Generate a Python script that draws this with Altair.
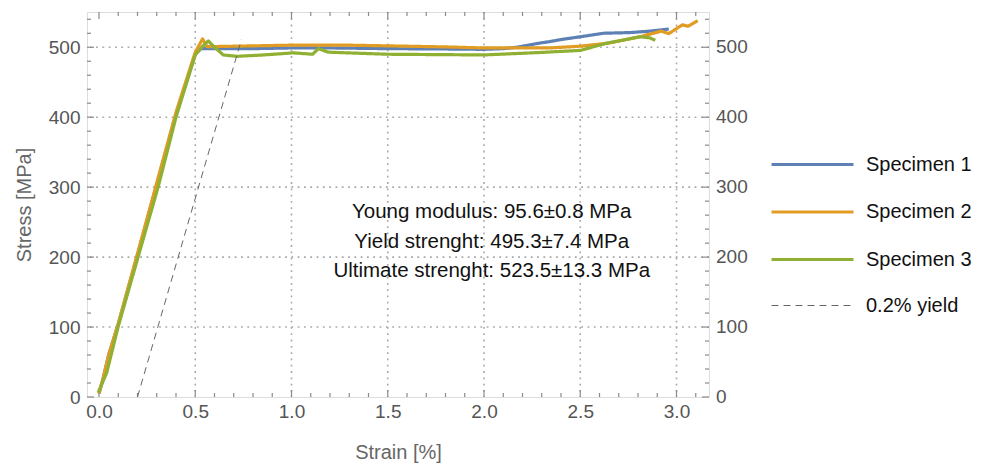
import altair as alt
import pandas as pd

# ---- data ----
s1_strain = [0.0, 0.02, 0.05, 0.10, 0.20, 0.30, 0.40, 0.50, 0.53, 0.60, 0.80, 1.00, 1.20, 1.50,
             1.80, 2.00, 2.10, 2.17, 2.29, 2.34, 2.40, 2.50, 2.62, 2.76, 2.86, 2.96]
s1_stress = [5, 25, 60, 104, 203, 304, 404, 490, 498, 498, 498, 499, 499, 498,
             497.5, 497, 498, 500, 506, 508, 511, 515, 520, 521, 523, 526]

s2_strain = [0.0, 0.02, 0.05, 0.10, 0.20, 0.30, 0.40, 0.50, 0.538, 0.56, 0.60, 0.80, 1.00, 1.30,
             1.50, 1.80, 2.00, 2.34, 2.50, 2.65, 2.81, 2.92, 2.96, 3.03, 3.06, 3.11]
s2_stress = [5, 25, 60, 105, 205, 306, 407, 493, 512, 501, 501, 502, 503, 503,
             502, 500.5, 499, 499, 501.5, 506, 515, 523, 519.5, 532, 530, 538]

s3_strain = [-0.004, 0.04, 0.10, 0.204, 0.308, 0.40, 0.50, 0.54, 0.568, 0.60, 0.646, 0.716, 0.855,
             1.01, 1.11, 1.14, 1.19, 1.29, 1.50, 2.00, 2.29, 2.50, 2.64, 2.81, 2.86, 2.89]
s3_stress = [6.5, 34.5, 101, 201, 301, 400, 489, 502, 509, 500, 489, 487, 489,
             492, 490, 498, 493, 492, 490, 489, 492.5, 495.5, 506, 515, 513.5, 510]

yield_strain = [0.2, 0.74]
yield_stress = [0, 511]

series_names = ["Specimen 1", "Specimen 2", "Specimen 3", "0.2% yield"]

x_major = [0.0, 0.5, 1.0, 1.5, 2.0, 2.5, 3.0]
x_minor = [0.1, 0.2, 0.3, 0.4, 0.6, 0.7, 0.8, 0.9, 1.1, 1.2, 1.3, 1.4, 1.6, 1.7, 1.8, 1.9,
           2.1, 2.2, 2.3, 2.4, 2.6, 2.7, 2.8, 2.9, 3.1]
y_major = [0, 100, 200, 300, 400, 500]
y_minor = [20, 40, 60, 80, 120, 140, 160, 180, 220, 240, 260, 280, 320, 340, 360, 380,
           420, 440, 460, 480, 520, 540]
x_grid = [0.5, 1.0, 1.5, 2.0, 2.5, 3.0]
y_grid = [100, 200, 300, 400, 500]

notes = ["Young modulus: 95.6\u00b10.8 MPa",
         "Yield strenght: 495.3\u00b17.4 MPa",
         "Ultimate strenght: 523.5\u00b113.3 MPa"]
note_strain = [2.04, 2.04, 2.04]
note_stress = [264.7, 221.9, 180.4]

# ---- build tables ----
rows = []
for name, xs, ys in [(series_names[0], s1_strain, s1_stress),
                     (series_names[1], s2_strain, s2_stress),
                     (series_names[2], s3_strain, s3_stress),
                     (series_names[3], yield_strain, yield_stress)]:
    for i, (a, b) in enumerate(zip(xs, ys)):
        rows.append({"series": name, "strain": a, "stress": b, "order": i})
lines_df = pd.DataFrame(rows)

W, H = 622, 385
FONT = "Liberation Sans"
xscale = alt.Scale(domain=[-0.0623, 3.1688], nice=False, zero=False)
yscale = alt.Scale(domain=[0, 550.4], nice=False, zero=False)
FRAME = "#8a8a8a"
LABEL = "#555555"

def vdf(vals):
    return pd.DataFrame({"v": vals})

# identical axis definitions are given to every layer so the shared axes merge cleanly
x_axis = alt.Axis(orient="bottom", values=x_major, format=".1f", title="Strain [%]",
                  ticks=False, domain=False, grid=False, labelFont=FONT,
                  labelFontSize=19, labelColor=LABEL, labelPadding=5,
                  titleFont=FONT, titleFontSize=20, titleFontWeight="normal",
                  titleColor="#666666", titlePadding=21)
y_axis = alt.Axis(orient="left", values=y_major, title="Stress [MPa]", ticks=False,
                  domain=False, grid=False, labelFont=FONT, labelFontSize=19,
                  labelColor=LABEL, labelPadding=7, titleFont=FONT,
                  titleFontSize=20, titleFontWeight="normal", titleColor="#666666",
                  titlePadding=14)

def X(field):
    return alt.X(field, scale=xscale, axis=x_axis)

def Y(field):
    return alt.Y(field, scale=yscale, axis=y_axis)

GRID = dict(color="#a8a8a8", strokeWidth=1.6, strokeDash=[1.8, 4.5])
xgrid = alt.Chart(vdf(x_grid)).mark_rule(**GRID).encode(x=X("v:Q"))
ygrid = alt.Chart(vdf(y_grid)).mark_rule(**GRID).encode(y=Y("v:Q"))

# inward ticks on all four sides of the frame
def xticks(vals, y0, y1):
    return alt.Chart(vdf(vals)).mark_rule(color=FRAME, strokeWidth=1.2).encode(
        x=X("v:Q"), y=alt.value(y0), y2=alt.value(y1))

def yticks(vals, x0, x1):
    return alt.Chart(vdf(vals)).mark_rule(color=FRAME, strokeWidth=1.2).encode(
        y=Y("v:Q"), x=alt.value(x0), x2=alt.value(x1))

ticks = [
    xticks(x_major, H, H - 7), xticks(x_minor, H, H - 4),
    xticks(x_major, 0, 7), xticks(x_minor, 0, 4),
    yticks(y_major, 0, 7), yticks(y_minor, 0, 4),
    yticks(y_major, W, W - 7), yticks(y_minor, W, W - 4),
]

# right-hand tick labels (mirror of the left axis)
right_labels = alt.Chart(vdf(y_major)).mark_text(font=FONT, fontSize=19, color=LABEL,
                                                 align="left", baseline="middle", dx=7).encode(
    y=Y("v:Q"), x=alt.value(W), text=alt.Text("v:Q", format="d"))

lines = alt.Chart(lines_df).mark_line(strokeCap="butt", strokeJoin="round").encode(
    x=X("strain:Q"),
    y=Y("stress:Q"),
    color=alt.Color("series:N",
                    scale=alt.Scale(domain=series_names,
                                    range=["#5E81B5", "#E19C24", "#8FB032", "#666666"]),
                    legend=alt.Legend(title=None, orient="none", legendX=703, legendY=130,
                                      symbolType="M-2,0H2", symbolSize=1681,
                                      labelFont=FONT, labelFontSize=20, labelColor="#111111",
                                      labelOffset=31, rowPadding=14.5, padding=0)),
    strokeDash=alt.StrokeDash("series:N",
                              scale=alt.Scale(domain=series_names,
                                              range=[[1, 0], [1, 0], [1, 0], [7, 5]]),
                              legend=alt.Legend(title=None)),
    strokeWidth=alt.StrokeWidth("series:N",
                                scale=alt.Scale(type="ordinal", domain=series_names,
                                                range=[3.2, 3.2, 3.2, 1]),
                                legend=alt.Legend(title=None)),
    order="order:Q",
    detail="series:N",
)

notes_df = pd.DataFrame({"t": notes, "strain": note_strain, "stress": note_stress})
text = alt.Chart(notes_df).mark_text(font=FONT, fontSize=20.5, color="#111111",
                                     align="center", baseline="middle").encode(
    x=X("strain:Q"), y=Y("stress:Q"), text="t:N")

chart = alt.layer(xgrid, ygrid, *ticks, right_labels, lines, text).properties(
    width=W, height=H,
    autosize=alt.AutoSizeParams(type="none"),
    padding={"left": 87, "top": 12, "right": 280, "bottom": 66},
).configure_view(stroke=FRAME, strokeWidth=1.5).configure(background="white")

chart.save("out.html", embed_options={"renderer": "svg", "actions": False})
